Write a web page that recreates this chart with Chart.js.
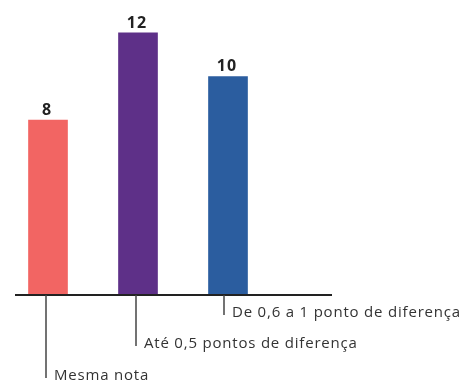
<!DOCTYPE html>
<html>
<head>
<meta charset="utf-8">
<script src="https://cdn.jsdelivr.net/npm/chart.js@4/dist/chart.umd.min.js"></script>
<style>
  body { margin: 0; background: #fff; }
  canvas { display: block; }
</style>
</head>
<body>
<canvas id="myChart" width="463" height="382"></canvas>
<script>
var categories = ["Mesma nota", "Até 0,5 pontos de diferença", "De 0,6 a 1 ponto de diferença"];
var values = [8, 12, 10];
var barColors = ["#f26563", "#5e3088", "#2b5d9f"];

// how far below the axis each category label sits (baseline, px)
var labelDrop = [85, 53, 22];

var annotate = {
    id: 'annotate',
    afterDatasetsDraw: function(chart){
        var ctx = chart.ctx;
        var x = chart.scales.x, y = chart.scales.y;
        var base = y.getPixelForValue(0);
        ctx.save();

        // axis line
        ctx.strokeStyle = "#222";
        ctx.lineWidth = 2;
        ctx.beginPath();
        ctx.moveTo(15, base);
        ctx.lineTo(332, base);
        ctx.stroke();

        var meta = chart.getDatasetMeta(0);
        meta.data.forEach(function(bar, i){
            // value on top of bar
            ctx.fillStyle = "#222";
            ctx.font = "700 16px 'Open Sans'";
            ctx.letterSpacing = "1px";
            ctx.textAlign = "center";
            ctx.textBaseline = "alphabetic";
            ctx.fillText(values[i], bar.x - 1, bar.y - 5);

            // leader line + label
            var lx = bar.x - 2 - (i == 2 ? 2 : 0);
            ctx.strokeStyle = "#444";
            ctx.lineWidth = 1.5;
            ctx.beginPath();
            ctx.moveTo(lx, base);
            ctx.lineTo(lx, base + labelDrop[i] - 2);
            ctx.stroke();

            ctx.fillStyle = "#333";
            ctx.font = "15px 'Open Sans'";
            ctx.letterSpacing = "0.8px";
            ctx.textAlign = "left";
            ctx.fillText(categories[i], lx + 8, base + labelDrop[i]);
        });
        ctx.restore();
    }
};

var ctx = document.getElementById("myChart").getContext('2d');
var myChart = new Chart(ctx, {
    type: 'bar',
    data: {
        labels: categories,
        datasets: [{
            data: values,
            backgroundColor: barColors,
            barThickness: 39
        }]
    },
    options: {
        responsive: false,
        animation: false,
        layout: { padding: { left: 3, right: 190, top: 0, bottom: 87 } },
        plugins: { legend: { display: false }, tooltip: { enabled: false } },
        scales: {
            x: { display: false },
            y: { display: false, min: 0, max: 13.5 }
        }
    },
    plugins: [annotate]
});
</script>
</body>
</html>
